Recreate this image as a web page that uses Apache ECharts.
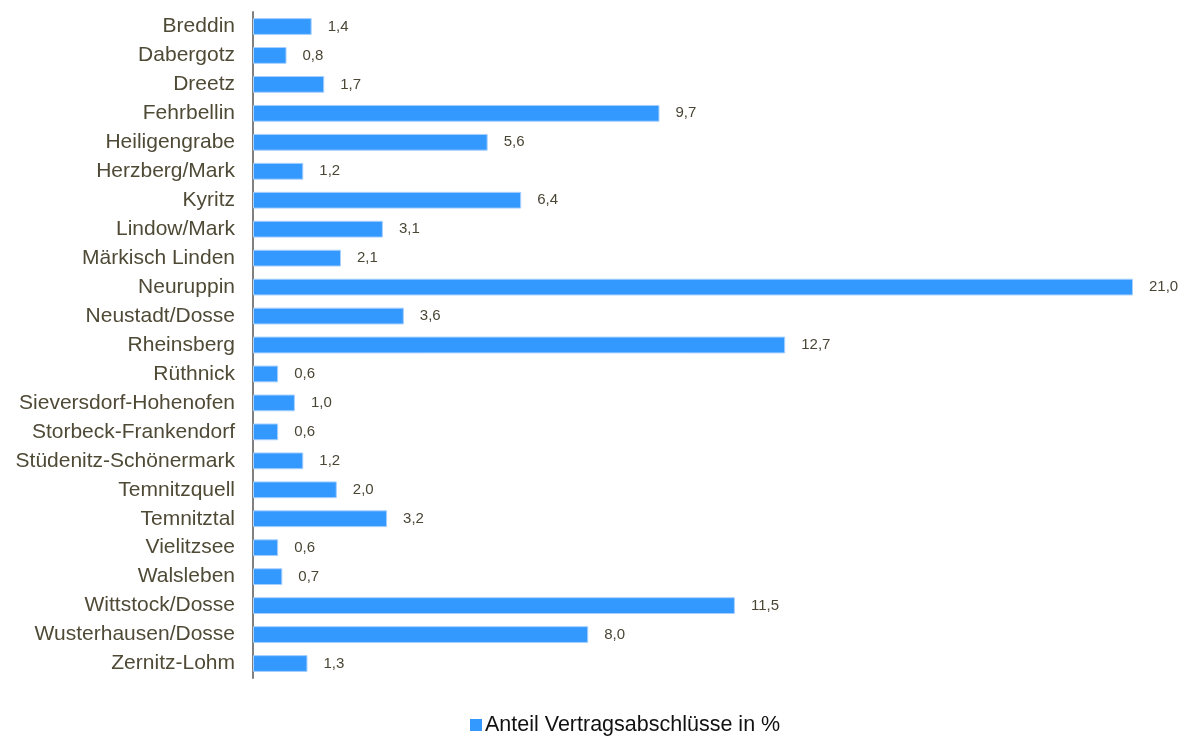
<!DOCTYPE html>
<html>
<head>
<meta charset="utf-8">
<script src="https://cdn.jsdelivr.net/npm/echarts@6/dist/echarts.min.js"></script>
<style>
html,body{margin:0;padding:0;background:#fff;}
#c{width:1183px;height:736px;}
</style>
</head>
<body>
<div id="c"></div>
<script>
const categories = ["Breddin","Dabergotz","Dreetz","Fehrbellin","Heiligengrabe","Herzberg/Mark","Kyritz","Lindow/Mark","Märkisch Linden","Neuruppin","Neustadt/Dosse","Rheinsberg","Rüthnick","Sieversdorf-Hohenofen","Storbeck-Frankendorf","Stüdenitz-Schönermark","Temnitzquell","Temnitztal","Vielitzsee","Walsleben","Wittstock/Dosse","Wusterhausen/Dosse","Zernitz-Lohm"];
const values = [1.4,0.8,1.7,9.7,5.6,1.2,6.4,3.1,2.1,21.0,3.6,12.7,0.6,1.0,0.6,1.2,2.0,3.2,0.6,0.7,11.5,8.0,1.3];
const seriesName = "Anteil Vertragsabschlüsse in %";

const chart = echarts.init(document.getElementById('c'), null, {renderer:'canvas'});
chart.setOption({
  animation:false,
  grid:{left:253, right:50, top:12, bottom:58, containLabel:false},
  legend:{
    top:709, left:465, itemWidth:12, itemHeight:12, itemGap:5,
    icon:'rect',
    itemStyle:{borderWidth:0, color:'#3399ff'},
    textStyle:{fontFamily:'Liberation Sans, Arial, sans-serif', fontSize:21.5, color:'#111', padding:[0,0,0,-2]},
    data:[seriesName]
  },
  xAxis:{type:'value', min:0, max:21, show:false},
  yAxis:{
    type:'category', data:categories, inverse:true,
    axisLine:{show:true, lineStyle:{color:'#808080', width:2}},
    axisTick:{show:false},
    axisLabel:{fontFamily:'Liberation Sans, Arial, sans-serif', fontSize:21, color:'#4f4a36', margin:18}
  },
  series:[{
    name:seriesName, type:'bar', data:values,
    barCategoryGap:'42%',
    itemStyle:{color:'#3399ff', borderColor:'#a8d0ff', borderWidth:1},
    label:{show:true, position:'right', distance:16,
      fontFamily:'Liberation Sans, Arial, sans-serif', fontSize:15, color:'#4a4636',
      formatter:p=>p.value.toFixed(1).replace('.',',')}
  }]
});
</script>
</body>
</html>
